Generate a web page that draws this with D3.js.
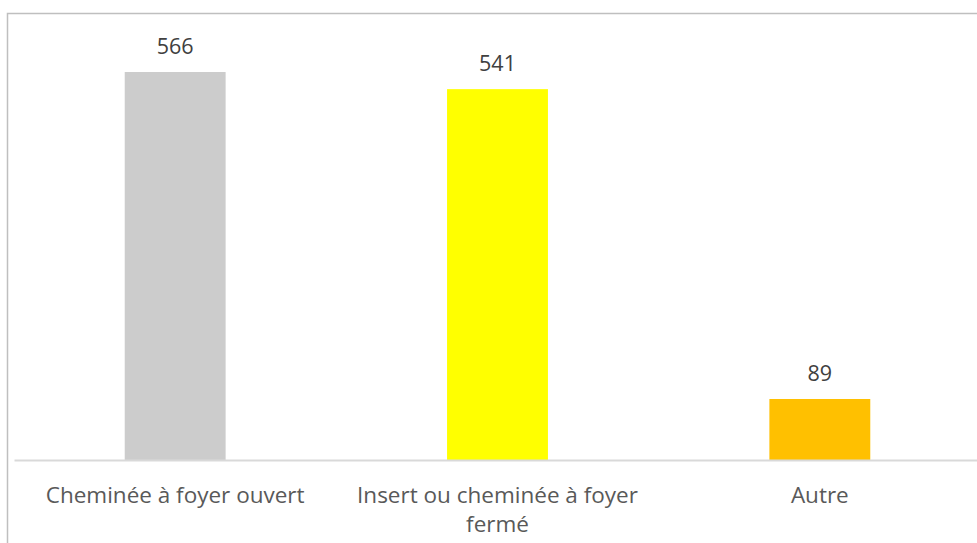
<!DOCTYPE html>
<html>
<head>
<meta charset="utf-8">
<script src="https://cdn.jsdelivr.net/npm/d3@7"></script>
<style>
  html, body { margin: 0; padding: 0; background: #fff; }
  svg { display: block; }
</style>
</head>
<body>
<svg id="chart" width="977" height="543"></svg>
<script>
// Appareils de chauffage au bois : nombre par type
const categories = ["Cheminée à foyer ouvert", "Insert ou cheminée à foyer fermé", "Autre"];
const values = [566, 541, 89];
const colors = ["#cccccc", "#ffff00", "#ffc000"];

const W = 977, H = 543;
const svg = d3.select("#chart");
const font = "'Open Sans', 'Noto Sans', sans-serif";

// chart frame
svg.append("rect")
  .attr("x", 7.5).attr("y", 13.5)
  .attr("width", W + 10).attr("height", H + 10)
  .attr("fill", "#fff")
  .attr("stroke", "#bfbfbf").attr("stroke-width", 1.5);

const plotLeft = 14, plotRight = 981, baseY = 460;

const x = d3.scaleBand()
  .domain(categories)
  .range([plotLeft, plotRight])
  .paddingInner(0.687)
  .paddingOuter(0.3435);

const y = d3.scaleLinear()
  .domain([0, 600])
  .range([baseY, baseY - 600 * 0.6855]);

// bars
svg.append("g").selectAll("rect")
  .data(values)
  .join("rect")
  .attr("x", (d, i) => x(categories[i]))
  .attr("y", d => y(d))
  .attr("width", x.bandwidth())
  .attr("height", d => y(0) - y(d))
  .attr("fill", (d, i) => colors[i]);

// category axis line
const axis = d3.axisBottom(x).tickSize(0).tickFormat("");
const gx = svg.append("g").attr("transform", `translate(0,${baseY})`).call(axis);
gx.select(".domain").attr("stroke", "#d9d9d9").attr("stroke-width", 2);

// value labels
svg.append("g").selectAll("text")
  .data(values)
  .join("text")
  .attr("x", (d, i) => x(categories[i]) + x.bandwidth() / 2)
  .attr("y", d => y(d) - 18)
  .attr("text-anchor", "middle")
  .attr("font-family", font)
  .attr("font-size", 21.5)
  .attr("fill", "#404040")
  .text(d => d);

// category labels, wrapped
const wrapLines = {
  "Cheminée à foyer ouvert": ["Cheminée à foyer ouvert"],
  "Insert ou cheminée à foyer fermé": ["Insert ou cheminée à foyer", "fermé"],
  "Autre": ["Autre"]
};
const lab = svg.append("g").selectAll("text")
  .data(categories)
  .join("text")
  .attr("x", d => x(d) + x.bandwidth() / 2)
  .attr("y", 503)
  .attr("text-anchor", "middle")
  .attr("font-family", font)
  .attr("font-size", 22.5)
  .attr("fill", "#595959");
lab.each(function(d) {
  const t = d3.select(this);
  wrapLines[d].forEach((line, i) => {
    t.append("tspan")
      .attr("x", x(d) + x.bandwidth() / 2)
      .attr("dy", i === 0 ? 0 : 29)
      .text(line);
  });
});
</script>
</body>
</html>
